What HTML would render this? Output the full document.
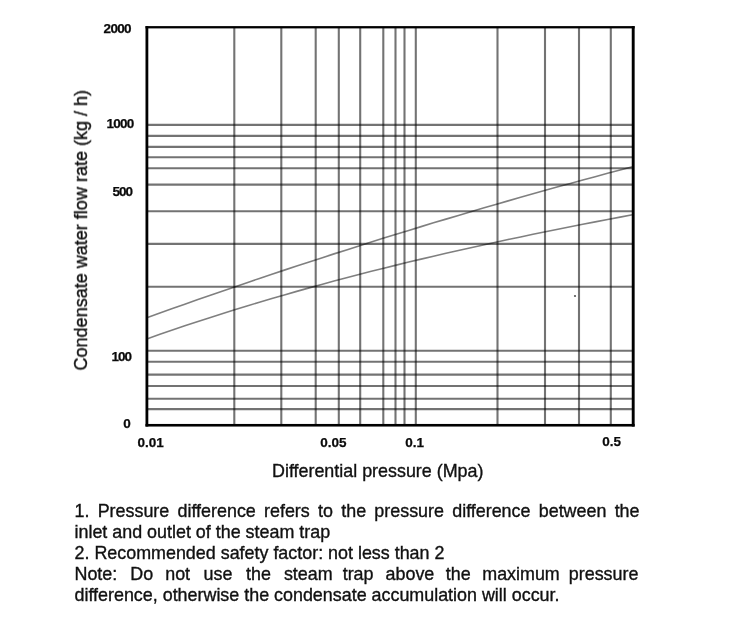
<!DOCTYPE html>
<html><head><meta charset="utf-8">
<style>
html,body{margin:0;padding:0;background:#fff;}
body{width:750px;height:618px;position:relative;overflow:hidden;font-family:"Liberation Sans",sans-serif;color:#000;}
#layer{position:absolute;left:0;top:0;width:750px;height:618px;will-change:transform;}
#xt,#yt,#notes{-webkit-text-stroke:0.35px #111;}
.lb{position:absolute;font-weight:bold;font-size:13.5px;line-height:14px;white-space:nowrap;color:#0a0a0a;-webkit-text-stroke:0.25px #0a0a0a;}
#xt{position:absolute;left:272px;top:461px;font-size:17.9px;line-height:20px;white-space:nowrap;color:#111;}
#yt{position:absolute;left:0;top:0;font-size:18.05px;line-height:20px;white-space:nowrap;color:#111;transform-origin:0 0;transform:translate(71px,370.5px) rotate(-90deg);will-change:transform;}
#notes{position:absolute;left:74.5px;top:501px;width:565px;font-size:17.9px;line-height:21px;color:#111;}
#notes div{text-align:justify;white-space:nowrap;}
.w{position:relative;}
#notes div.j{text-align-last:justify;white-space:normal;}
</style></head><body>
<svg width="750" height="618" viewBox="0 0 750 618" style="position:absolute;left:0;top:0">
<g stroke="#000" stroke-opacity="0.55" stroke-width="2.1" fill="none">
<line x1="234.3" y1="27.25" x2="234.3" y2="425.1"/>
<line x1="281.3" y1="27.25" x2="281.3" y2="425.1"/>
<line x1="315.7" y1="27.25" x2="315.7" y2="425.1"/>
<line x1="338.8" y1="27.25" x2="338.8" y2="425.1"/>
<line x1="360.2" y1="27.25" x2="360.2" y2="425.1"/>
<line x1="383.3" y1="27.25" x2="383.3" y2="425.1"/>
<line x1="395.5" y1="27.25" x2="395.5" y2="425.1"/>
<line x1="404.5" y1="27.25" x2="404.5" y2="425.1"/>
<line x1="415.8" y1="27.25" x2="415.8" y2="425.1"/>
<line x1="497.5" y1="27.25" x2="497.5" y2="425.1"/>
<line x1="545" y1="27.25" x2="545" y2="425.1"/>
<line x1="579" y1="27.25" x2="579" y2="425.1"/>
<line x1="610.8" y1="27.25" x2="610.8" y2="425.1"/>
<line x1="146.9" y1="124.9" x2="633.2" y2="124.9"/>
<line x1="146.9" y1="135.9" x2="633.2" y2="135.9"/>
<line x1="146.9" y1="146.9" x2="633.2" y2="146.9"/>
<line x1="146.9" y1="157.2" x2="633.2" y2="157.2"/>
<line x1="146.9" y1="168.3" x2="633.2" y2="168.3"/>
<line x1="146.9" y1="184.6" x2="633.2" y2="184.6"/>
<line x1="146.9" y1="211.3" x2="633.2" y2="211.3"/>
<line x1="146.9" y1="243.9" x2="633.2" y2="243.9"/>
<line x1="146.9" y1="286.7" x2="633.2" y2="286.7"/>
<line x1="146.9" y1="350.7" x2="633.2" y2="350.7"/>
<line x1="146.9" y1="361.8" x2="633.2" y2="361.8"/>
<line x1="146.9" y1="374.6" x2="633.2" y2="374.6"/>
<line x1="146.9" y1="386" x2="633.2" y2="386"/>
<line x1="146.9" y1="398.7" x2="633.2" y2="398.7"/>
<line x1="146.9" y1="409.1" x2="633.2" y2="409.1"/>
</g>
<path d="M147.5,317.39 L159.9,312.94 L172.4,308.52 L184.8,304.13 L197.2,299.78 L209.7,295.45 L222.1,291.15 L234.6,286.89 L247.0,282.65 L259.4,278.45 L271.9,274.28 L284.3,270.13 L296.7,266.02 L309.2,261.94 L321.6,257.89 L334.0,253.88 L346.5,249.89 L358.9,245.93 L371.3,242.01 L383.8,238.11 L396.2,234.25 L408.7,230.42 L421.1,226.62 L433.5,222.85 L446.0,219.11 L458.4,215.40 L470.8,211.72 L483.3,208.08 L495.7,204.46 L508.1,200.87 L520.6,197.32 L533.0,193.80 L545.4,190.31 L557.9,186.84 L570.3,183.41 L582.8,180.02 L595.2,176.65 L607.6,173.31 L620.1,170.00 L632.5,166.73" stroke="#000" stroke-opacity="0.5" stroke-width="1.6" fill="none"/>
<path d="M147.5,338.69 L159.9,334.33 L172.4,330.06 L184.8,325.86 L197.2,321.74 L209.7,317.70 L222.1,313.73 L234.6,309.83 L247.0,306.00 L259.4,302.25 L271.9,298.56 L284.3,294.94 L296.7,291.38 L309.2,287.89 L321.6,284.46 L334.0,281.09 L346.5,277.79 L358.9,274.54 L371.3,271.34 L383.8,268.20 L396.2,265.12 L408.7,262.09 L421.1,259.11 L433.5,256.17 L446.0,253.29 L458.4,250.45 L470.8,247.66 L483.3,244.91 L495.7,242.20 L508.1,239.54 L520.6,236.91 L533.0,234.32 L545.4,231.76 L557.9,229.25 L570.3,226.76 L582.8,224.30 L595.2,221.88 L607.6,219.49 L620.1,217.12 L632.5,214.77" stroke="#000" stroke-opacity="0.5" stroke-width="1.6" fill="none"/>
<g fill="#000"><rect x="145.50" y="26.10" width="2.8" height="400.45"/><rect x="631.75" y="26.10" width="2.9" height="400.45"/><rect x="145.50" y="26.10" width="489.15" height="2.3"/><rect x="145.50" y="423.95" width="489.15" height="2.6"/></g>
<circle cx="575" cy="296" r="1.1" fill="#555"/>
</svg>
<div id="layer">
<div class="lb" id="l2000" style="left:103.60px;top:22.45px;letter-spacing:-0.7px;">2000</div>
<div class="lb" id="l1000" style="left:106.44px;top:117.45px;letter-spacing:-0.7px;">1000</div>
<div class="lb" id="l500" style="left:112.60px;top:184.62px;letter-spacing:-1px;">500</div>
<div class="lb" id="l100" style="left:111.43px;top:349.62px;letter-spacing:-1px;">100</div>
<div class="lb" id="l0" style="left:123.36px;top:417.45px;letter-spacing:-1px;">0</div>
<div class="lb" id="x001" style="left:137.53px;top:436.45px;letter-spacing:0px;">0.01</div>
<div class="lb" id="x005" style="left:320.32px;top:436.45px;letter-spacing:0px;">0.05</div>
<div class="lb" id="x01" style="left:405.36px;top:436.45px;letter-spacing:0px;">0.1</div>
<div class="lb" id="x05" style="left:602.15px;top:435.45px;letter-spacing:0px;">0.5</div>
<div id="xt">Differential pressure (Mpa)</div>
<div id="yt">Condensate water flow rate (kg / h)</div>
<div id="notes">
<div class="j">1. Pressure difference refers to the pressure difference between the</div>
<div>inlet and outlet of the steam trap</div>
<div>2. Recommended safety factor: not less than 2</div>
<div class="j">Note: <span class="w" style="left:1px">Do</span> <span class="w" style="left:1px">not</span> <span class="w" style="left:2.5px">use</span> <span class="w" style="left:4px">the</span> <span class="w" style="left:5px">steam</span> <span class="w" style="left:3px">trap</span> <span class="w" style="left:3px">above</span> <span class="w" style="left:2.5px">the</span> <span class="w" style="left:2px">maximum</span> <span class="w" style="left:-1px">pressure</span></div>
<div>difference, otherwise the condensate accumulation will occur.</div>
</div>
</div>
</body></html>
